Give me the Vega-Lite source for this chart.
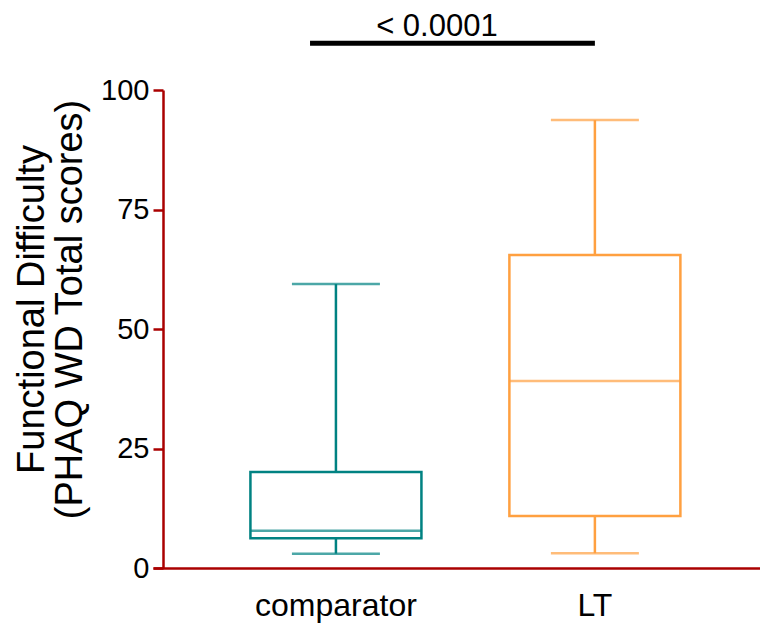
{
  "$schema": "https://vega.github.io/schema/vega-lite/v6.json",
  "width": 607,
  "height": 478,
  "autosize": "none",
  "padding": {"left": 153, "top": 90, "right": 0, "bottom": 59},
  "background": "white",
  "config": {"view": {"stroke": null}, "font": "Liberation Sans", "axis": {"grid": false}},
  "datasets": {
    "stats": [
      {"group": "comparator", "lower": 3.0, "q1": 6.2, "median": 7.8, "q3": 20.1, "upper": 59.4},
      {"group": "LT", "lower": 3.1, "q1": 10.9, "median": 39.1, "q3": 65.5, "upper": 93.7}
    ],
    "annot": [{"label": "< 0.0001", "y": 109.8, "ty": 111.3}]
  },
  "encoding": {
    "x": {
      "field": "group",
      "type": "nominal",
      "sort": ["comparator", "LT"],
      "scale": {"type": "band", "domain": ["comparator", "LT"], "paddingInner": 0, "paddingOuter": 0.172, "align": 0.6},
      "axis": {
        "title": null,
        "ticks": false,
        "labelAngle": 0,
        "labelFontSize": 32,
        "labelColor": "black",
        "labelPadding": 22,
        "domainColor": "#aa0000",
        "domainWidth": 2.5
      }
    }
  },
  "layer": [
    {
      "data": {"name": "stats"},
      "mark": {"type": "rule", "strokeWidth": 2.5},
      "encoding": {
        "y": {
          "field": "lower",
          "type": "quantitative",
          "scale": {"domain": [0, 100], "nice": false},
          "axis": {
            "title": ["Functional Difficulty", "(PHAQ WD Total scores)"],
            "values": [0, 25, 50, 75, 100],
            "offset": -10,
            "tickSize": 10,
            "tickWidth": 2.5,
            "tickColor": "#aa0000",
            "domainColor": "#aa0000",
            "domainWidth": 2.5,
            "labelFontSize": 29,
            "labelColor": "black",
            "labelPadding": 4,
            "titleFontSize": 38,
            "titleFontWeight": "normal",
            "titleColor": "black",
            "titleX": -112,
            "titleY": 219,
            "titleAngle": -90,
            "titleAlign": "center",
            "titleBaseline": "bottom",
            "titleLineHeight": 38
          }
        },
        "y2": {"field": "q1"},
        "color": {"field": "group", "type": "nominal", "scale": {"domain": ["comparator", "LT"], "range": ["#008282", "#ffa040"]}, "legend": null}
      }
    },
    {
      "data": {"name": "stats"},
      "mark": {"type": "rule", "strokeWidth": 2.5},
      "encoding": {
        "y": {"field": "q3", "type": "quantitative"},
        "y2": {"field": "upper"},
        "color": {"field": "group", "type": "nominal", "legend": null}
      }
    },
    {
      "data": {"name": "stats"},
      "mark": {"type": "bar", "size": 171, "fill": "white", "strokeWidth": 2.5},
      "encoding": {
        "y": {"field": "q1", "type": "quantitative"},
        "y2": {"field": "q3"},
        "stroke": {"field": "group", "type": "nominal", "scale": {"domain": ["comparator", "LT"], "range": ["#008282", "#ffa040"]}, "legend": null}
      }
    },
    {
      "data": {"name": "stats"},
      "mark": {"type": "tick", "size": 171, "thickness": 2.5},
      "encoding": {
        "y": {"field": "median", "type": "quantitative"},
        "color": {"field": "group", "type": "nominal", "legend": null}
      }
    },
    {
      "data": {"name": "stats"},
      "mark": {"type": "tick", "size": 88, "thickness": 2.5},
      "encoding": {
        "y": {"field": "lower", "type": "quantitative"},
        "color": {"field": "group", "type": "nominal", "legend": null}
      }
    },
    {
      "data": {"name": "stats"},
      "mark": {"type": "tick", "size": 88, "thickness": 2.5},
      "encoding": {
        "y": {"field": "upper", "type": "quantitative"},
        "color": {"field": "group", "type": "nominal", "legend": null}
      }
    },
    {
      "data": {"name": "annot"},
      "mark": {"type": "rule", "strokeWidth": 5, "color": "black"},
      "encoding": {
        "x": {"datum": "comparator", "bandPosition": 0.4},
        "x2": {"datum": "LT"},
        "y": {"field": "y", "type": "quantitative"}
      }
    },
    {
      "data": {"name": "annot"},
      "mark": {"type": "text", "fontSize": 31, "baseline": "alphabetic", "align": "center", "color": "black"},
      "encoding": {
        "x": {"datum": "comparator", "bandPosition": 0.89},
        "y": {"field": "ty", "type": "quantitative"},
        "text": {"field": "label"}
      }
    }
  ]
}
